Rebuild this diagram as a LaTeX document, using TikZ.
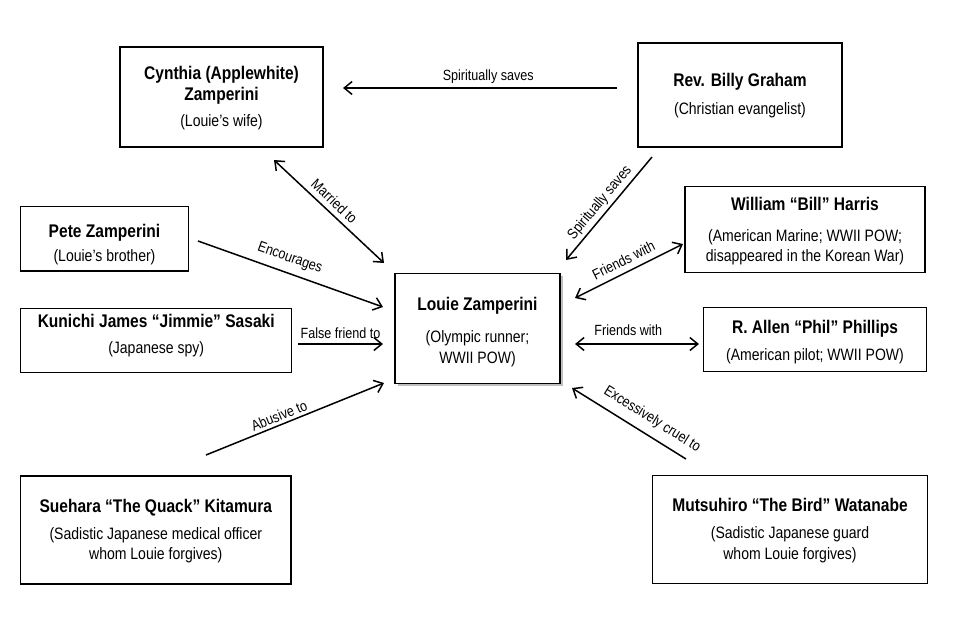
\documentclass[tikz,border=0pt]{standalone}
\usepackage{fontspec}
\setmainfont{Liberation Sans}[FakeStretch=0.85]
\usetikzlibrary{arrows.meta,shadows}
\begin{document}
\begin{tikzpicture}[x=1pt,y=-1pt,
  box/.style={draw, line width=1.1pt, inner sep=0pt, fill=white},
  ttl/.style={font=\fontsize{18.3}{21}\selectfont\bfseries, anchor=base, inner sep=0pt},
  sub/.style={font=\fontsize{16.5}{20}\selectfont, anchor=base, inner sep=0pt},
  lbl/.style={font=\fontsize{14.8}{17}\selectfont, inner sep=1pt},
  tipb/.tip={Straight Barb[length=8pt,width=13pt]},
  rel/.style={line width=1.5pt, -tipb},
  both/.style={line width=1.5pt, tipb-tipb}]
\useasboundingbox (0,0) rectangle (967,622);
\fill[white] (0,0) rectangle (967,622);

% boxes
\node[box, minimum width=203pt, minimum height=100pt] (cyn) at (221.5,97) {};
\node[box, minimum width=204pt, minimum height=104pt] (gra) at (740,95) {};
\node[box, minimum width=240pt, minimum height=86pt] (har) at (805,229.7) {};
\node[box, minimum width=167.6pt, minimum height=64.3pt] (pet) at (104.5,238.8) {};
\node[box, minimum width=271pt, minimum height=64pt] (sas) at (156.2,340.3) {};
\node[box, minimum width=165pt, minimum height=110pt, drop shadow={shadow xshift=3pt, shadow yshift=-3pt, fill=black, opacity=0.25}] (lou) at (477.5,328.3) {};
\node[box, minimum width=223.4pt, minimum height=64.4pt] (phi) at (815,339.5) {};
\node[box, minimum width=274.6pt, minimum height=107.6pt] (wat) at (790,529.5) {};
\node[box, minimum width=270.3pt, minimum height=108pt] (kit) at (155.8,530) {};

% texts
\node[ttl] (cynt1) at (221.5,79) {Cynthia (Applewhite)};
\node[ttl] (cynt2) at (221.5,100) {Zamperini};
\node[sub] (cyns) at (221.5,126) {(Louie’s wife)};

\node[ttl] (grat) at (740,86) {Rev. Billy Graham};
\node[sub] (gras) at (740,114.5) {(Christian evangelist)};

\node[ttl] (hart) at (805,210.5) {William “Bill” Harris};
\node[sub] (hars1) at (805,241) {(American Marine; WWII POW;};
\node[sub] (hars2) at (805,261) {disappeared in the Korean War)};

\node[ttl] (pett) at (104.5,237.5) {Pete Zamperini};
\node[sub] (pets) at (104.5,261) {(Louie’s brother)};

\node[ttl] (sast) at (156.2,327.5) {Kunichi James “Jimmie” Sasaki};
\node[sub] (sass) at (156.2,353.5) {(Japanese spy)};

\node[ttl] (lout) at (477.5,310.5) {Louie Zamperini};
\node[sub] (lous1) at (477.5,342.5) {(Olympic runner;};
\node[sub] (lous2) at (477.5,363) {WWII POW)};

\node[ttl] (phit) at (815,333) {R. Allen “Phil” Phillips};
\node[sub] (phis) at (815,360) {(American pilot; WWII POW)};

\node[ttl] (watt) at (790,511.5) {Mutsuhiro “The Bird” Watanabe};
\node[sub] (wats1) at (790,538.5) {(Sadistic Japanese guard};
\node[sub] (wats2) at (790,559) {whom Louie forgives)};

\node[ttl] (kitt) at (155.8,512.5) {Suehara “The Quack” Kitamura};
\node[sub] (kits1) at (155.8,539.5) {(Sadistic Japanese medical officer};
\node[sub] (kits2) at (155.8,559) {whom Louie forgives)};

% connector end points
\coordinate (gA) at (617,88);   \coordinate (cA) at (343,88);
\coordinate (cB) at (274,160);  \coordinate (lB) at (384,263);
\coordinate (gC) at (652,157);  \coordinate (lC) at (566,260);
\coordinate (pD) at (198,241);  \coordinate (lD) at (383,307);
\coordinate (sE) at (298,344);  \coordinate (lE) at (383,344);
\coordinate (kF) at (206,455);  \coordinate (lF) at (384,383);
\coordinate (lG) at (575,298);  \coordinate (hG) at (683,244);
\coordinate (lH) at (575,344);  \coordinate (pH) at (699,344);
\coordinate (wI) at (686,459);  \coordinate (lI) at (572,388);

% connectors
\draw[rel] (gA) -- node[lbl, pos=0.47, above=3pt] (t1) {Spiritually saves} (cA);
\draw[both] (cB) -- node[lbl, sloped, pos=0.48, above=4pt] (t2) {Married to} (lB);
\draw[rel] (gC) -- node[lbl, sloped, pos=0.51, above=2pt] (t3) {Spiritually saves} (lC);
\draw[rel] (pD) -- node[lbl, sloped, pos=0.47, above=6pt] (t4) {Encourages} (lD);
\draw[rel] (sE) -- node[lbl, pos=0.5, above=4pt] (t5) {False friend to} (lE);
\draw[rel] (kF) -- node[lbl, sloped, pos=0.43, above=2pt] (t6) {Abusive to} (lF);
\draw[both] (lG) -- node[lbl, sloped, pos=0.5, above=5pt] (t7) {Friends with} (hG);
\draw[both] (lH) -- node[lbl, pos=0.43, above=7pt] (t8) {Friends with} (pH);
\draw[rel] (wI) -- node[lbl, sloped, pos=0.37, above=7pt] (t9) {Excessively cruel to} (lI);
\end{tikzpicture}
\end{document}
